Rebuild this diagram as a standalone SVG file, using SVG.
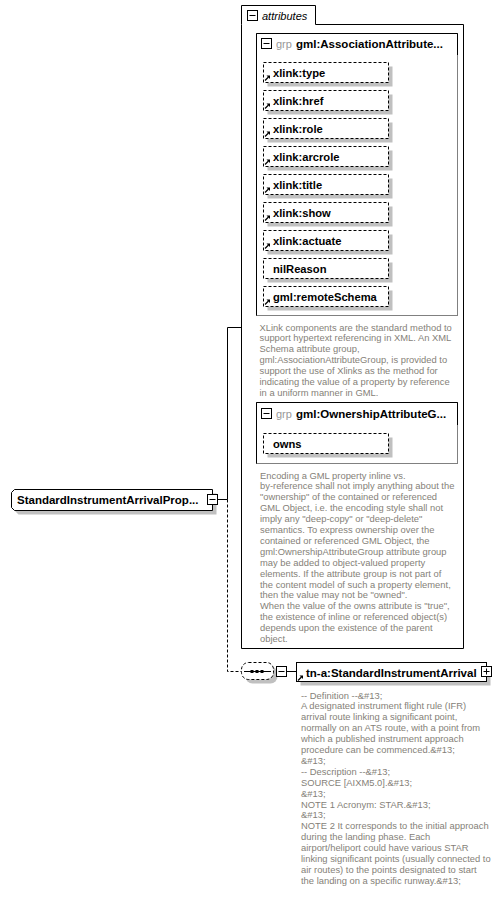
<svg xmlns="http://www.w3.org/2000/svg" xmlns:xlink="http://www.w3.org/1999/xlink" width="502" height="903" viewBox="0 0 502 903">
<style>
  .lbl{font-family:"Liberation Sans",Arial,sans-serif;font-size:11.2px;font-weight:bold;fill:#000}
  .ttl{font-family:"Liberation Sans",Arial,sans-serif;font-size:11.5px;font-weight:bold;fill:#000}
  .grp{font-family:"Liberation Sans",Arial,sans-serif;font-size:11px;fill:#999}
  .ann{font-family:"Liberation Sans",Arial,sans-serif;font-size:9.4px;fill:#857f78}
  .it{font-family:"Liberation Sans",Arial,sans-serif;font-size:11px;font-style:italic;fill:#000}
  .att{fill:#fff;stroke:#000;stroke-width:1;stroke-dasharray:3,2}
  .sh{fill:#c0c0c0;stroke:none}
  .box{fill:#fff;stroke:#000;stroke-width:1}
  .ln{fill:none;stroke:#000;stroke-width:1}
  .dash{fill:none;stroke:#000;stroke-width:1;stroke-dasharray:3,2}
</style>
<defs>
  <g id="ref">
    <path d="M0,5 L3.5,1.5" stroke="#000" stroke-width="1.2" fill="none"/>
    <path d="M1.5,0 L5,0 L5,3.5 Z" fill="#000"/>
  </g>
  <g id="minus">
    <rect x="0" y="0" width="10" height="10" class="box"/>
    <path d="M2,5 H8" class="ln"/>
  </g>
  <g id="plus">
    <rect x="0" y="0" width="10" height="10" class="box"/>
    <path d="M2,5 H8 M5,2 V8" class="ln"/>
  </g>
</defs>
<rect width="502" height="903" fill="#fff"/>

<g id="connectors">
  <path d="M217.5,499.5 H227.5 V327.5 H241" class="ln"/>
  <path d="M227.5,499.5 V671.5 H241" class="dash"/>
  <path d="M273,671.5 H276 M286,671.5 H296" class="ln"/>
</g>

<g id="attributes">
  <path d="M241.5,24.5 V5.5 H315.5 V24.5 H463.5 V648.5 H241.5 Z" class="box"/>
  <use href="#minus" x="247.5" y="10.5"/>
  <text x="262" y="20" class="it">attributes</text>
</g>

<g id="grp-association">
  <rect x="256.5" y="33.5" width="201" height="282" fill="#fff" stroke="#808080"/>
  <path d="M256.5,315.5 V33.5 H457.5 V55" class="ln"/>
  <use href="#minus" x="261.5" y="38.5"/>
  <text x="276" y="48" class="grp">grp</text>
  <text x="296" y="48" class="ttl">gml:AssociationAttribute...</text>
</g>

<g id="attr-type">
  <rect x="267.5" y="66.5" width="125" height="20" class="sh"/>
  <rect x="263.5" y="62.5" width="125" height="20" class="att"/>
  <use href="#ref" x="265" y="75.5"/>
  <text x="273" y="77" class="lbl">xlink:type</text>
</g>
<g id="attr-href">
  <rect x="267.5" y="94.5" width="125" height="20" class="sh"/>
  <rect x="263.5" y="90.5" width="125" height="20" class="att"/>
  <use href="#ref" x="265" y="103.5"/>
  <text x="273" y="105" class="lbl">xlink:href</text>
</g>
<g id="attr-role">
  <rect x="267.5" y="122.5" width="125" height="20" class="sh"/>
  <rect x="263.5" y="118.5" width="125" height="20" class="att"/>
  <use href="#ref" x="265" y="131.5"/>
  <text x="273" y="133" class="lbl">xlink:role</text>
</g>
<g id="attr-arcrole">
  <rect x="267.5" y="150.5" width="125" height="20" class="sh"/>
  <rect x="263.5" y="146.5" width="125" height="20" class="att"/>
  <use href="#ref" x="265" y="159.5"/>
  <text x="273" y="161" class="lbl">xlink:arcrole</text>
</g>
<g id="attr-title">
  <rect x="267.5" y="178.5" width="125" height="20" class="sh"/>
  <rect x="263.5" y="174.5" width="125" height="20" class="att"/>
  <use href="#ref" x="265" y="187.5"/>
  <text x="273" y="189" class="lbl">xlink:title</text>
</g>
<g id="attr-show">
  <rect x="267.5" y="206.5" width="125" height="20" class="sh"/>
  <rect x="263.5" y="202.5" width="125" height="20" class="att"/>
  <use href="#ref" x="265" y="215.5"/>
  <text x="273" y="217" class="lbl">xlink:show</text>
</g>
<g id="attr-actuate">
  <rect x="267.5" y="234.5" width="125" height="20" class="sh"/>
  <rect x="263.5" y="230.5" width="125" height="20" class="att"/>
  <use href="#ref" x="265" y="243.5"/>
  <text x="273" y="245" class="lbl">xlink:actuate</text>
</g>
<g id="attr-nilReason">
  <rect x="267.5" y="262.5" width="125" height="20" class="sh"/>
  <rect x="263.5" y="258.5" width="125" height="20" class="att"/>
  <text x="273" y="273" class="lbl">nilReason</text>
</g>
<g id="attr-remoteSchema">
  <rect x="267.5" y="290.5" width="125" height="20" class="sh"/>
  <rect x="263.5" y="286.5" width="125" height="20" class="att"/>
  <use href="#ref" x="265" y="299.5"/>
  <text x="273" y="301" class="lbl">gml:remoteSchema</text>
</g>

<g id="ann-association">
  <text class="ann" x="259.5" y="330.5">
    <tspan x="259.5" dy="0">XLink components are the standard method to</tspan>
    <tspan x="259.5" dy="10.9">support hypertext referencing in XML. An XML</tspan>
    <tspan x="259.5" dy="10.9">Schema attribute group,</tspan>
    <tspan x="259.5" dy="10.9">gml:AssociationAttributeGroup, is provided to</tspan>
    <tspan x="259.5" dy="10.9">support the use of Xlinks as the method for</tspan>
    <tspan x="259.5" dy="10.9">indicating the value of a property by reference</tspan>
    <tspan x="259.5" dy="10.9">in a uniform manner in GML.</tspan>
  </text>
</g>

<g id="grp-ownership">
  <rect x="256.5" y="402.5" width="201" height="61" fill="#fff" stroke="#808080"/>
  <path d="M256.5,463.5 V402.5 H457.5 V425" class="ln"/>
  <use href="#minus" x="261.5" y="408.5"/>
  <text x="276" y="418" class="grp">grp</text>
  <text x="296" y="418" class="ttl">gml:OwnershipAttributeG...</text>
</g>
<g id="attr-owns">
  <rect x="267.5" y="437.5" width="125" height="20" class="sh"/>
  <rect x="263.5" y="433.5" width="125" height="20" class="att"/>
  <text x="273" y="448" class="lbl">owns</text>
</g>

<g id="ann-ownership">
  <text class="ann" x="260" y="478.5">
    <tspan x="260" dy="0">Encoding a GML property inline vs.</tspan>
    <tspan x="260" dy="10.9">by-reference shall not imply anything about the</tspan>
    <tspan x="260" dy="10.9">"ownership" of the contained or referenced</tspan>
    <tspan x="260" dy="10.9">GML Object, i.e. the encoding style shall not</tspan>
    <tspan x="260" dy="10.9">imply any "deep-copy" or "deep-delete"</tspan>
    <tspan x="260" dy="10.9">semantics. To express ownership over the</tspan>
    <tspan x="260" dy="10.9">contained or referenced GML Object, the</tspan>
    <tspan x="260" dy="10.9">gml:OwnershipAttributeGroup attribute group</tspan>
    <tspan x="260" dy="10.9">may be added to object-valued property</tspan>
    <tspan x="260" dy="10.9">elements. If the attribute group is not part of</tspan>
    <tspan x="260" dy="10.9">the content model of such a property element,</tspan>
    <tspan x="260" dy="10.9">then the value may not be "owned".</tspan>
    <tspan x="260" dy="10.9">When the value of the owns attribute is "true",</tspan>
    <tspan x="260" dy="10.9">the existence of inline or referenced object(s)</tspan>
    <tspan x="260" dy="10.9">depends upon the existence of the parent</tspan>
    <tspan x="260" dy="10.9">object.</tspan>
  </text>
</g>

<g id="root">
  <path d="M18.5,493.5 H216.5 V514.5 H18.5 L15.5,511.5 V496.5 Z" class="sh"/>
  <path d="M14.5,489.5 H212.5 V510.5 H14.5 L11.5,507.5 V492.5 Z" class="box"/>
  <text x="17" y="503.5" class="ttl">StandardInstrumentArrivalProp...</text>
  <use href="#minus" x="207.5" y="494.5"/>
</g>

<g id="sequence">
  <rect x="245.5" y="666.5" width="32" height="17" rx="7" class="sh"/>
  <rect x="241.5" y="662.5" width="32" height="17" rx="7" fill="#fff" stroke="#000" stroke-dasharray="3,2"/>
  <path d="M244,671.5 H271" class="ln"/>
  <rect x="250.5" y="670" width="3" height="3" fill="#000"/>
  <rect x="255.5" y="670" width="3" height="3" fill="#000"/>
  <rect x="260.5" y="670" width="3" height="3" fill="#000"/>
  <use href="#minus" x="276.5" y="666.5"/>
</g>

<g id="element">
  <rect x="300.5" y="666.5" width="190" height="19" class="sh"/>
  <rect x="296.5" y="662.5" width="190" height="19" class="box"/>
  <use href="#ref" x="298" y="675.5"/>
  <text x="306" y="676.5" class="ttl">tn-a:StandardInstrumentArrival</text>
  <use href="#plus" x="481.5" y="666.5"/>
</g>

<g id="ann-element">
  <text class="ann" x="301" y="698.5">
    <tspan x="301" dy="0">-- Definition --&amp;#13;</tspan>
    <tspan x="301" dy="10.9">A designated instrument flight rule (IFR)</tspan>
    <tspan x="301" dy="10.9">arrival route linking a significant point,</tspan>
    <tspan x="301" dy="10.9">normally on an ATS route, with a point from</tspan>
    <tspan x="301" dy="10.9">which a published instrument approach</tspan>
    <tspan x="301" dy="10.9">procedure can be commenced.&amp;#13;</tspan>
    <tspan x="301" dy="10.9">&amp;#13;</tspan>
    <tspan x="301" dy="10.9">-- Description --&amp;#13;</tspan>
    <tspan x="301" dy="10.9">SOURCE [AIXM5.0].&amp;#13;</tspan>
    <tspan x="301" dy="10.9">&amp;#13;</tspan>
    <tspan x="301" dy="10.9">NOTE 1 Acronym: STAR.&amp;#13;</tspan>
    <tspan x="301" dy="10.9">&amp;#13;</tspan>
    <tspan x="301" dy="10.9">NOTE 2 It corresponds to the initial approach</tspan>
    <tspan x="301" dy="10.9">during the landing phase. Each</tspan>
    <tspan x="301" dy="10.9">airport/heliport could have various STAR</tspan>
    <tspan x="301" dy="10.9">linking significant points (usually connected to</tspan>
    <tspan x="301" dy="10.9">air routes) to the points designated to start</tspan>
    <tspan x="301" dy="10.9">the landing on a specific runway.&amp;#13;</tspan>
  </text>
</g>
</svg>
